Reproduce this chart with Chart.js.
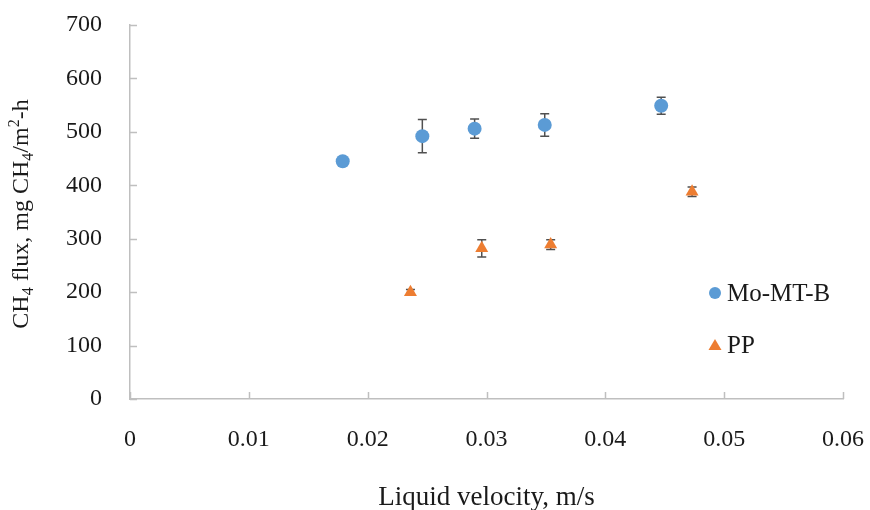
<!DOCTYPE html>
<html>
<head>
<meta charset="utf-8">
<script src="https://cdn.jsdelivr.net/npm/chart.js@4.4.0/dist/chart.umd.min.js"></script>
<style>
  html, body { margin: 0; padding: 0; background: #fff; }
  #wrap { width: 870px; height: 510px; }
</style>
</head>
<body>
<div id="wrap"><canvas id="chart" width="870" height="510"></canvas></div>
<script>
// values
const moVelocity = [0.0179, 0.0246, 0.0290, 0.0349, 0.0447];
const moFlux     = [445, 492, 506, 513, 549];
const moErr      = [0, 31, 18, 21, 16];

const ppVelocity = [0.0236, 0.0296, 0.0354, 0.0473];
const ppFlux     = [200, 282, 289, 388];
const ppErr      = [5, 16, 9, 9];

const xTicks = [0, 0.01, 0.02, 0.03, 0.04, 0.05, 0.06];
const yTicks = [0, 100, 200, 300, 400, 500, 600, 700];

const seriesNames = ['Mo-MT-B', 'PP'];
const BLUE = '#5b9bd5';
const ORANGE = '#ed7d31';
const AXIS = '#bfbfbf';
const INK = '#1a1a1a';
const FONT = '"Liberation Serif", "Times New Roman", serif';

const toPoints = (xs, ys) => xs.map((x, i) => ({x: x, y: ys[i]}));

// error bars, drawn under the markers
const errorBars = {
    id: 'errorBars',
    beforeDatasetsDraw(chart) {
        const ctx = chart.ctx;
        const xs = chart.scales.x, ys = chart.scales.y;
        ctx.save();
        ctx.strokeStyle = '#505050';
        ctx.lineWidth = 1.5;
        chart.data.datasets.forEach(ds => {
            ds.data.forEach((p, i) => {
                const e = ds.errors[i];
                if (!e) return;
                const px = xs.getPixelForValue(p.x);
                const top = ys.getPixelForValue(p.y + e);
                const bot = ys.getPixelForValue(p.y - e);
                ctx.beginPath();
                ctx.moveTo(px, top); ctx.lineTo(px, bot);
                ctx.moveTo(px - 4.5, top); ctx.lineTo(px + 4.5, top);
                ctx.moveTo(px - 4.5, bot); ctx.lineTo(px + 4.5, bot);
                ctx.stroke();
            });
        });
        ctx.restore();
    }
};

// inward tick marks, y title with sub/superscripts, legend
const extras = {
    id: 'extras',
    afterDraw(chart) {
        const ctx = chart.ctx;
        const area = chart.chartArea;
        const xs = chart.scales.x, ys = chart.scales.y;
        ctx.save();
        ctx.strokeStyle = AXIS;
        ctx.lineWidth = 1.5;
        ctx.beginPath();
        yTicks.forEach(v => {
            const py = Math.round(ys.getPixelForValue(v)) + 0.5;
            ctx.moveTo(area.left, py); ctx.lineTo(area.left + 7, py);
        });
        xTicks.forEach(v => {
            const px = Math.round(xs.getPixelForValue(v)) + 0.5;
            ctx.moveTo(px, area.bottom); ctx.lineTo(px, area.bottom - 7);
        });
        ctx.stroke();

        // y axis title
        const parts = [
            {t: 'CH', s: 0}, {t: '4', s: 1}, {t: ' flux, mg CH', s: 0}, {t: '4', s: 1},
            {t: '/m', s: 0}, {t: '2', s: -1}, {t: '-h', s: 0}
        ];
        const big = '24px ' + FONT, small = '16px ' + FONT;
        let total = 0;
        parts.forEach(p => {
            ctx.font = p.s ? small : big;
            p.w = ctx.measureText(p.t).width;
            total += p.w;
        });
        ctx.translate(22, (area.top + area.bottom) / 2 + 2);
        ctx.rotate(-Math.PI / 2);
        ctx.fillStyle = INK;
        ctx.textBaseline = 'middle';
        ctx.textAlign = 'left';
        let cx = -total / 2;
        parts.forEach(p => {
            ctx.font = p.s ? small : big;
            ctx.fillText(p.t, cx, p.s * 7);
            cx += p.w;
        });
        ctx.setTransform(1, 0, 0, 1, 0, 0);

        // legend
        const lx = area.right - 128;
        const rows = [area.top + 268, area.top + 320];
        ctx.font = '25px ' + FONT;
        ctx.textBaseline = 'middle';
        chart.data.datasets.forEach((ds, i) => {
            const y = rows[i];
            ctx.fillStyle = ds.backgroundColor;
            ctx.beginPath();
            if (ds.pointStyle === 'circle') {
                ctx.arc(lx, y, 6, 0, Math.PI * 2);
            } else {
                ctx.moveTo(lx, y - 6); ctx.lineTo(lx + 6.5, y + 5); ctx.lineTo(lx - 6.5, y + 5);
                ctx.closePath();
            }
            ctx.fill();
            ctx.fillStyle = INK;
            ctx.fillText(ds.label, lx + 12, y + 1);
        });
        ctx.restore();
    }
};

const config = {
    type: 'scatter',
    data: {
        datasets: [
            {
                label: seriesNames[0],
                data: toPoints(moVelocity, moFlux),
                errors: moErr,
                pointStyle: 'circle',
                pointRadius: 7,
                backgroundColor: BLUE,
                borderColor: BLUE,
                borderWidth: 0
            },
            {
                label: seriesNames[1],
                data: toPoints(ppVelocity, ppFlux),
                errors: ppErr,
                pointStyle: 'triangle',
                pointRadius: 7.5,
                backgroundColor: ORANGE,
                borderColor: ORANGE,
                borderWidth: 0
            }
        ]
    },
    options: {
        responsive: false,
        animation: false,
        layout: { padding: { left: 0, right: 27, top: 25, bottom: 0 } },
        scales: {
            x: {
                type: 'linear',
                min: 0, max: 0.06,
                afterFit: s => { s.height = 111; s.paddingLeft = 0; s.paddingRight = 0; },
                afterBuildTicks: s => { s.ticks = xTicks.map(v => ({value: v})); },
                border: { color: AXIS, width: 1.5 },
                grid: { display: false },
                ticks: {
                    padding: 18,
                    color: INK,
                    font: { family: FONT, size: 24 },
                    maxRotation: 0,
                    callback: v => v === 0 ? '0' : v.toFixed(2)
                },
                title: {
                    display: true,
                    text: 'Liquid velocity, m/s',
                    color: INK,
                    font: { family: FONT, size: 27 },
                    padding: { top: 0, bottom: -4 }
                }
            },
            y: {
                min: 0, max: 700,
                afterFit: s => { s.width = 130; s.paddingTop = 0; s.paddingBottom = 0; },
                afterBuildTicks: s => { s.ticks = yTicks.map(v => ({value: v})); },
                border: { color: AXIS, width: 1.5 },
                grid: { display: false },
                ticks: {
                    padding: 20,
                    color: INK,
                    font: { family: FONT, size: 24 }
                }
            }
        },
        plugins: {
            legend: { display: false },
            tooltip: { enabled: false }
        }
    },
    plugins: [errorBars, extras]
};

new Chart(document.getElementById('chart').getContext('2d'), config);
</script>
</body>
</html>
